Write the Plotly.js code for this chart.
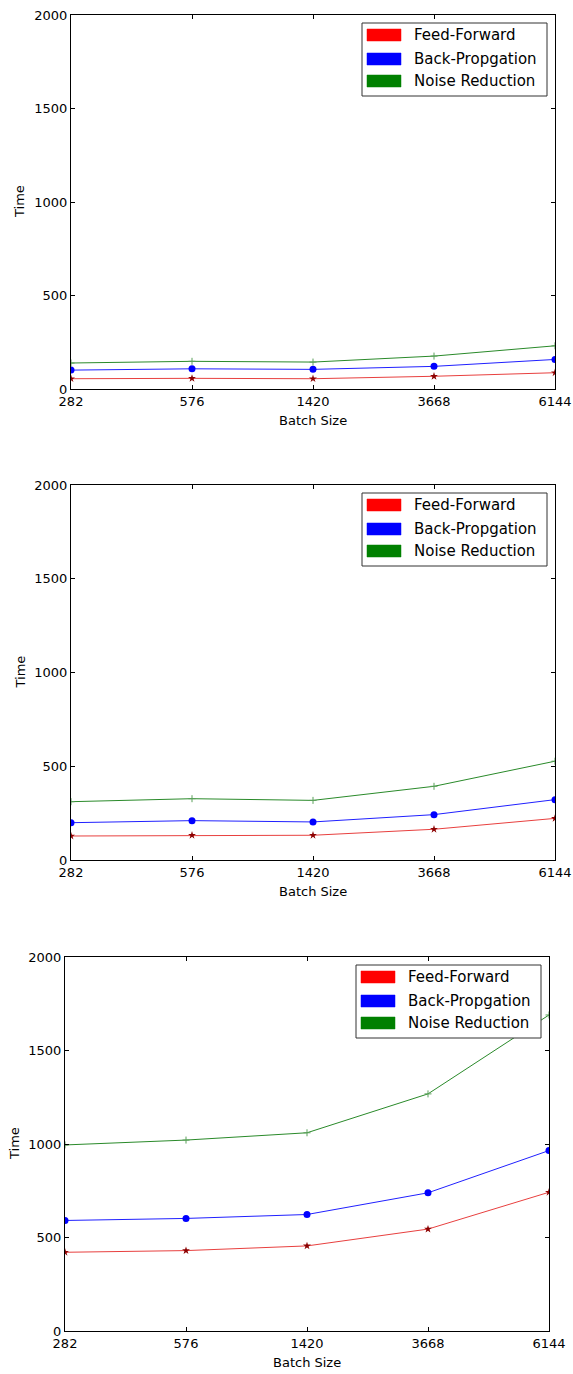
<!DOCTYPE html>
<html>
<head>
<meta charset="utf-8">
<script src="https://cdn.plot.ly/plotly-3.0.1.min.js"></script>
<style>html,body{margin:0;padding:0;background:#fff;}#chart{width:573px;height:1374px;}</style>
</head>
<body>
<div id="chart"></div>
<script>
// ---- data ----
var batchSizes = ["282", "576", "1420", "3668", "6144"];
var seriesNames = ["Feed-Forward", "Back-Propgation", "Noise Reduction"];
var yTicks = [0, 500, 1000, 1500, 2000];

var ff1 = [55, 57, 55, 68, 87];
var bp1 = [101, 108, 105, 121, 158];
var nr1 = [139, 148, 144, 176, 231];

var ff2 = [128, 132, 132, 164, 222];
var bp2 = [199, 210, 203, 242, 322];
var nr2 = [311, 327, 318, 393, 527];

var ff3 = [421, 430, 455, 545, 742];
var bp3 = [591, 602, 623, 739, 965];
var nr3 = [995, 1021, 1060, 1268, 1690];

// ---- layout geometry (pixels) ----
var W = 573, H = 1374;
var panels = [
  {ff: ff1, bp: bp1, nr: nr1, left: 71, right: 555, top: 15, bottom: 389},
  {ff: ff2, bp: bp2, nr: nr2, left: 71, right: 555, top: 485, bottom: 860},
  {ff: ff3, bp: bp3, nr: nr3, left: 65, right: 549, top: 957, bottom: 1331}
];

var font = "DejaVu Sans, Liberation Sans, sans-serif";
var lineColors = ["#e8403f", "#2020ff", "#2a8a2a"];
var patchColors = ["#ff0000", "#0000ff", "#008000"];

var traces = [];
var layout = {
  width: W, height: H,
  margin: {l: 0, r: 0, t: 0, b: 0},
  paper_bgcolor: "#ffffff",
  plot_bgcolor: "#ffffff",
  showlegend: false,
  font: {family: font, size: 13, color: "#000"},
  shapes: [],
  annotations: []
};

panels.forEach(function (p, i) {
  var n = i + 1;
  var xa = "x" + (n === 1 ? "" : n);
  var ya = "y" + (n === 1 ? "" : n);
  var xk = "xaxis" + (n === 1 ? "" : n);
  var yk = "yaxis" + (n === 1 ? "" : n);

  traces.push({
    x: batchSizes, y: p.ff, xaxis: xa, yaxis: ya, type: "scatter", mode: "lines+markers",
    name: seriesNames[0], line: {color: lineColors[0], width: 1},
    marker: {symbol: "star", size: 6, color: "#8b0000", line: {width: 0}}
  });
  traces.push({
    x: batchSizes, y: p.bp, xaxis: xa, yaxis: ya, type: "scatter", mode: "lines+markers",
    name: seriesNames[1], line: {color: lineColors[1], width: 1},
    marker: {symbol: "circle", size: 7, color: "#0000ff", line: {width: 0}}
  });
  traces.push({
    x: batchSizes, y: p.nr, xaxis: xa, yaxis: ya, type: "scatter", mode: "lines+markers",
    name: seriesNames[2], line: {color: lineColors[2], width: 1},
    marker: {symbol: "cross-thin", size: 5, color: "#5aa05a", line: {width: 1, color: "#5aa05a"}}
  });

  layout[xk] = {
    domain: [p.left / W, p.right / W],
    anchor: ya,
    type: "category",
    categoryorder: "array",
    categoryarray: batchSizes,
    range: [0, batchSizes.length - 1],
    showgrid: false, zeroline: false,
    showline: true, linecolor: "#000", linewidth: 1, mirror: "ticks",
    ticks: "inside", ticklen: 4, tickcolor: "#000",
    tickfont: {family: font, size: 13, color: "#000"}
  };
  layout[yk] = {
    domain: [1 - p.bottom / H, 1 - p.top / H],
    anchor: xa,
    range: [0, 2000],
    tickvals: yTicks,
    ticktext: yTicks.map(String),
    showgrid: false, zeroline: false,
    showline: true, linecolor: "#000", linewidth: 1, mirror: "ticks",
    ticks: "inside", ticklen: 4, tickcolor: "#000",
    tickfont: {family: font, size: 13, color: "#000"}
  };

  var w = p.right - p.left, h = p.bottom - p.top;
  var xr = xa + " domain", yr = ya + " domain";
  // legend box
  layout.shapes.push({
    type: "rect", xref: xr, yref: yr,
    x0: 1 - 193 / w, x1: 1 - 8 / w, y0: 1 - 81 / h, y1: 1 - 8 / h,
    line: {color: "#333", width: 1}, fillcolor: "#fff", layer: "above"
  });
  var patchTops = [14, 38, 60];
  for (var k = 0; k < 3; k++) {
    layout.shapes.push({
      type: "rect", xref: xr, yref: yr,
      x0: 1 - 188 / w, x1: 1 - 154 / w,
      y0: 1 - (patchTops[k] + 12) / h, y1: 1 - patchTops[k] / h,
      line: {color: patchColors[k], width: 0.5}, fillcolor: patchColors[k], layer: "above"
    });
    layout.annotations.push({
      xref: xr, yref: yr, x: 1 - 143 / w, y: 1 - (patchTops[k] + 6) / h,
      xanchor: "left", yanchor: "middle", showarrow: false,
      text: seriesNames[k], font: {family: font, size: 15, color: "#000"}
    });
  }
  // axis titles
  layout.annotations.push({
    xref: "paper", yref: "paper",
    x: (p.left + p.right) / 2 / W, y: 1 - (p.bottom + 31) / H,
    xanchor: "center", yanchor: "middle", showarrow: false,
    text: "Batch Size", font: {family: font, size: 13, color: "#000"}
  });
  layout.annotations.push({
    xref: "paper", yref: "paper",
    x: (p.left - 51) / W, y: 1 - (p.top + p.bottom) / 2 / H,
    xanchor: "center", yanchor: "middle", showarrow: false, textangle: -90,
    text: "Time", font: {family: font, size: 13, color: "#000"}
  });
});

Plotly.newPlot("chart", traces, layout, {displayModeBar: false, staticPlot: true});
</script>
</body>
</html>
